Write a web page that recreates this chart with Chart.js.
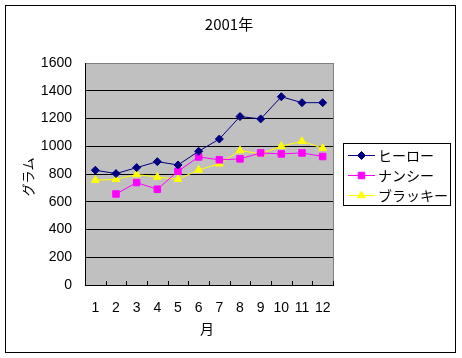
<!DOCTYPE html>
<html><head><meta charset="utf-8">
<script src="https://cdn.jsdelivr.net/npm/chart.js@4/dist/chart.umd.min.js"></script>
<style>html,body{margin:0;padding:0;background:#fff;}canvas{display:block;}</style>
</head><body>
<canvas id="c" width="462" height="358"></canvas>
<script>
const months = ['1','2','3','4','5','6','7','8','9','10','11','12'];
const seriesNames = ['ヒーロー','ナンシー','ブラッキー'];
const hero    = [827, 803, 846, 889, 865, 964, 1052, 1214, 1197, 1357, 1314, 1314];
const nancy   = [null, 656, 738, 690, 820, 923, 902, 909, 952, 945, 952, 926];
const brackie = [755, 762, 796, 778, 762, 829, 874, 969, 945, 1000, 1036, 986];
const yTicks  = [0, 200, 400, 600, 800, 1000, 1200, 1400, 1600];
const chartTitle = '2001年';
const xTitle = '月';
const yTitle = 'グラム';

const NUM_FONT = '"Liberation Sans", Arial, sans-serif';
const JP_FONT = '"Noto Sans CJK JP", sans-serif';

const deco = {
  id: 'deco',
  beforeDraw(chart) {
    const ctx = chart.ctx, a = chart.chartArea;
    ctx.save();
    ctx.fillStyle = '#fff';
    ctx.fillRect(0, 0, chart.width, chart.height);
    ctx.strokeStyle = '#000'; ctx.lineWidth = 1;
    ctx.strokeRect(5.5, 5.5, 450, 347);
    ctx.fillStyle = '#C0C0C0';
    ctx.fillRect(a.left, a.top, a.right - a.left, a.bottom - a.top);
    ctx.restore();
  },
  afterDatasetsDraw(chart) {
    const ctx = chart.ctx, a = chart.chartArea;
    ctx.save();
    ctx.strokeStyle = '#808080'; ctx.lineWidth = 1;
    ctx.beginPath();
    ctx.moveTo(Math.round(a.right) + 0.5, a.top);
    ctx.lineTo(Math.round(a.right) + 0.5, a.bottom);
    ctx.stroke();
    const xs = chart.scales.x;
    ctx.strokeStyle = '#000';
    ctx.beginPath();
    for (let i = 0; i <= months.length; i++) {
      const px = Math.round(xs.getPixelForValue(i - 0.5)) + 0.5;
      ctx.moveTo(px, a.bottom);
      ctx.lineTo(px, a.bottom - 4);
    }
    ctx.stroke();
    ctx.fillStyle = '#000';
    ctx.textAlign = 'center'; ctx.textBaseline = 'middle';
    ctx.font = '15px ' + JP_FONT;
    ctx.fillText(chartTitle, 229, 24);
    ctx.font = '14px ' + JP_FONT;
    ctx.fillText(xTitle, 207, 329);
    ctx.save();
    ctx.translate(28, 177);
    ctx.rotate(-Math.PI / 2);
    ctx.font = '13px ' + JP_FONT;
    ctx.fillText(yTitle, 0, 0);
    ctx.restore();
    const lx = 343.5, ly = 143.5, lw = 107, lh = 62;
    ctx.fillStyle = '#fff';
    ctx.fillRect(lx, ly, lw, lh);
    ctx.strokeStyle = '#000';
    ctx.strokeRect(lx, ly, lw, lh);
    const rows = [155, 175, 195];
    chart.data.datasets.forEach((ds, i) => {
      const y = rows[i];
      ctx.strokeStyle = ds.borderColor; ctx.lineWidth = 1;
      ctx.beginPath(); ctx.moveTo(348, y + 0.5); ctx.lineTo(375, y + 0.5); ctx.stroke();
      ctx.fillStyle = ds.backgroundColor; ctx.strokeStyle = ds.borderColor;
      Chart.helpers.drawPoint(ctx, {pointStyle: ds.pointStyle, radius: ds.pointRadius, borderWidth: 1}, 361.5, y + 0.5);
      ctx.fillStyle = '#000';
      ctx.textAlign = 'left'; ctx.textBaseline = 'middle';
      ctx.font = '14px ' + JP_FONT;
      ctx.fillText(ds.label, 378, y + 1);
    });
    ctx.restore();
  }
};

function mkDs(label, data, color, style, r) {
  return {
    label, data,
    borderColor: color, backgroundColor: color,
    pointBackgroundColor: color, pointBorderColor: color,
    borderWidth: 1, pointStyle: style, pointRadius: r, pointHoverRadius: r,
    tension: 0, spanGaps: false
  };
}

new Chart(document.getElementById('c'), {
  type: 'line',
  data: {
    labels: months,
    datasets: [
      mkDs(seriesNames[0], hero, '#000080', 'rectRot', 4),
      mkDs(seriesNames[1], nancy, '#FF00FF', 'rect', 4.6),
      mkDs(seriesNames[2], brackie, '#FFFF00', 'triangle', 4.5)
    ]
  },
  plugins: [deco],
  options: {
    responsive: false,
    animation: false,
    events: [],
    layout: { padding: { top: 63, right: 129, left: 0, bottom: 0 } },
    plugins: { legend: { display: false }, title: { display: false }, tooltip: { enabled: false } },
    scales: {
      x: {
        offset: true,
        afterFit: s => { s.height = 73; },
        grid: { display: false, drawTicks: false },
        border: { display: true, color: '#000', width: 1 },
        ticks: { color: '#000', padding: 15, maxRotation: 0, autoSkip: false, font: { family: NUM_FONT, size: 14 } }
      },
      y: {
        min: yTicks[0], max: yTicks[yTicks.length - 1],
        afterFit: s => { s.width = 85; },
        afterBuildTicks: s => { s.ticks = yTicks.map(v => ({ value: v })); },
        grid: { drawTicks: false, color: ctx => (ctx.tick && ctx.tick.value === 1600) ? '#808080' : '#000', lineWidth: 1 },
        border: { display: true, color: '#000', width: 1 },
        ticks: { color: '#000', padding: 13, font: { family: NUM_FONT, size: 14 }, callback: v => String(v) }
      }
    }
  }
});
</script>
</body></html>
